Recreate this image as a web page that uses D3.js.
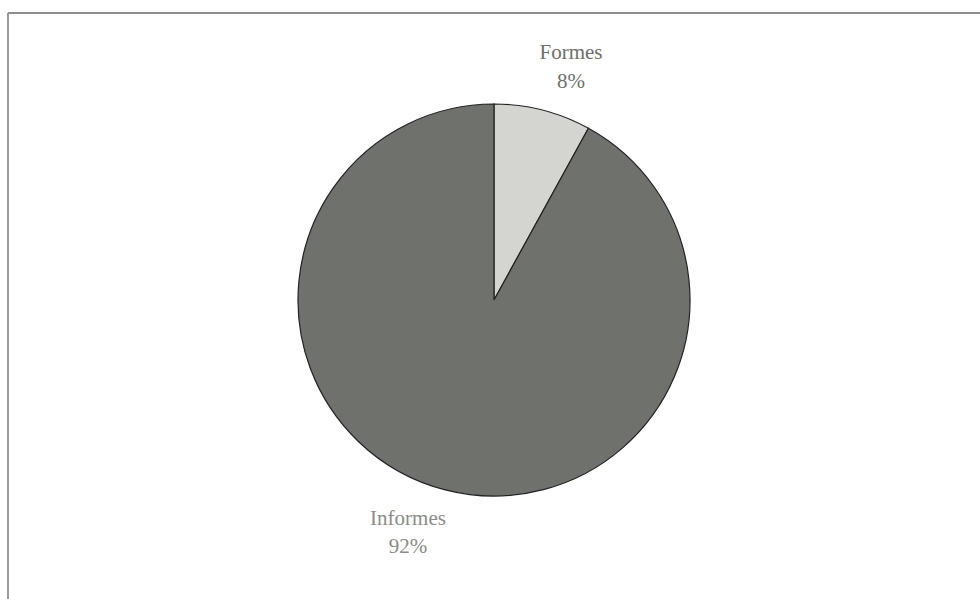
<!DOCTYPE html>
<html>
<head>
<meta charset="utf-8">
<script src="https://cdn.jsdelivr.net/npm/d3@7"></script>
<style>
  body { margin: 0; background: #fff; }
</style>
</head>
<body>
<div id="chart"></div>
<script>
// slice data
var categories = ["Formes", "Informes"];
var values = [8, 92];
var pctLabels = ["8%", "92%"];
var colors = ["#d4d5d1", "#6f716d"];

var width = 980, height = 599;

var svg = d3.select("#chart").append("svg")
	.attr("width", width)
	.attr("height", height);

// frame lines (top and left)
svg.append("line")
	.attr("x1", 8).attr("y1", 13).attr("x2", width).attr("y2", 13)
	.attr("stroke", "#8f8f8d").attr("stroke-width", 2);
svg.append("line")
	.attr("x1", 8).attr("y1", 13).attr("x2", 8).attr("y2", height)
	.attr("stroke", "#9a9a98").attr("stroke-width", 2);

var cx = 494, cy = 300, radius = 196;

var pie = d3.pie().sort(null).value(function(d) { return d; });
var arc = d3.arc().innerRadius(0).outerRadius(radius);

var g = svg.append("g").attr("transform", "translate(" + cx + "," + cy + ")");

g.selectAll("path")
	.data(pie(values))
	.enter().append("path")
	.attr("d", arc)
	.attr("fill", function(d, i) { return colors[i]; })
	.attr("stroke", "#222")
	.attr("stroke-width", 1.2);

// labels (name line, then percent line)
var labelPos = [
	{ x: 571, y1: 59, y2: 88, color: "#6e6e6c" },
	{ x: 408, y1: 525, y2: 553, color: "#8c8c89" }
];

categories.forEach(function(c, i) {
	svg.append("text")
		.attr("x", labelPos[i].x)
		.attr("y", labelPos[i].y1)
		.attr("text-anchor", "middle")
		.style("font-family", "'Liberation Serif', 'DejaVu Serif', serif")
		.style("font-size", "21px")
		.style("fill", labelPos[i].color)
		.text(c);
	svg.append("text")
		.attr("x", labelPos[i].x)
		.attr("y", labelPos[i].y2)
		.attr("text-anchor", "middle")
		.style("font-family", "'Liberation Serif', 'DejaVu Serif', serif")
		.style("font-size", "21px")
		.style("fill", labelPos[i].color)
		.text(pctLabels[i]);
});
</script>
</body>
</html>
